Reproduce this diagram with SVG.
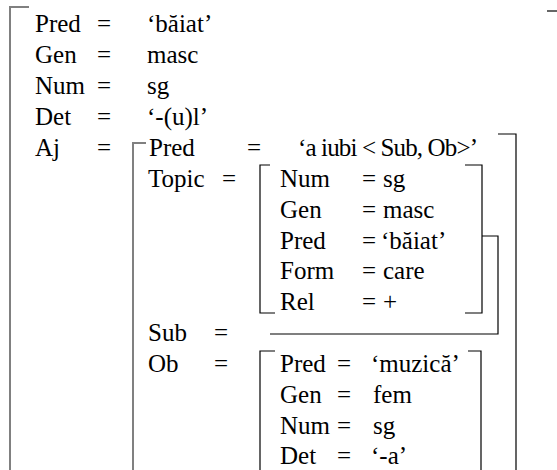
<svg xmlns="http://www.w3.org/2000/svg" width="557" height="470" viewBox="0 0 557 470">
<style>
text{font-family:"Liberation Serif","Times New Roman",serif;font-size:25px;fill:#000}
.g{fill:none;stroke:#808080;stroke-width:2}
.k{fill:none;stroke:#000;stroke-width:1.2}
</style>
<rect width="557" height="470" fill="#fff"/>
<g id="connectors">
<path class="g" d="M29,7 H10 V470"/>
<path class="k" d="M547,11 H557"/>
<path class="g" d="M146,143 H133 V470"/>
<path class="k" d="M498,134 H516 V470"/>
<path class="k" d="M270,165 H260 V313 H275"/>
<path class="k" d="M465,165 H482 V313 H465"/>
<path class="k" d="M270,334 H498 V236 H482"/>
<path class="k" d="M275,351 H260 V470"/>
<path class="k" d="M468,351 H481 V470"/>
</g>
<g id="outer">
<text x="35" y="32">Pred</text><text x="97" y="32">=</text><text x="147" y="32">‘băiat’</text>
<text x="35" y="63">Gen</text><text x="97" y="63">=</text><text x="147" y="63">masc</text>
<text x="35" y="94">Num</text><text x="97" y="94">=</text><text x="147" y="94">sg</text>
<text x="35" y="125">Det</text><text x="97" y="125">=</text><text x="147" y="125">‘-(u)l’</text>
<text x="35" y="156">Aj</text><text x="97" y="156">=</text>
</g>
<g id="aj">
<text x="149" y="156">Pred</text><text x="247" y="156">=</text><text x="298" y="156" textLength="180" lengthAdjust="spacing">‘a iubi &lt; Sub, Ob&gt;’</text>
<text x="148" y="187">Topic</text><text x="222" y="187">=</text>
<text x="148" y="341">Sub</text><text x="214" y="341">=</text>
<text x="148" y="372">Ob</text><text x="214" y="372">=</text>
</g>
<g id="topic">
<text x="280" y="187">Num</text><text x="362" y="187">=</text><text x="383" y="187">sg</text>
<text x="280" y="218">Gen</text><text x="362" y="218">=</text><text x="383" y="218">masc</text>
<text x="280" y="249">Pred</text><text x="362" y="249">=</text><text x="381" y="249">‘băiat’</text>
<text x="280" y="279">Form</text><text x="362" y="279">=</text><text x="383" y="279">care</text>
<text x="280" y="310">Rel</text><text x="362" y="310">=</text><text x="383" y="310">+</text>
</g>
<g id="ob">
<text x="280" y="372">Pred</text><text x="337" y="372">=</text><text x="371" y="372">‘muzică’</text>
<text x="280" y="403">Gen</text><text x="337" y="403">=</text><text x="373" y="403">fem</text>
<text x="280" y="434">Num</text><text x="337" y="434">=</text><text x="373" y="434">sg</text>
<text x="280" y="464">Det</text><text x="337" y="464">=</text><text x="371" y="464">‘-a’</text>
</g>
</svg>
